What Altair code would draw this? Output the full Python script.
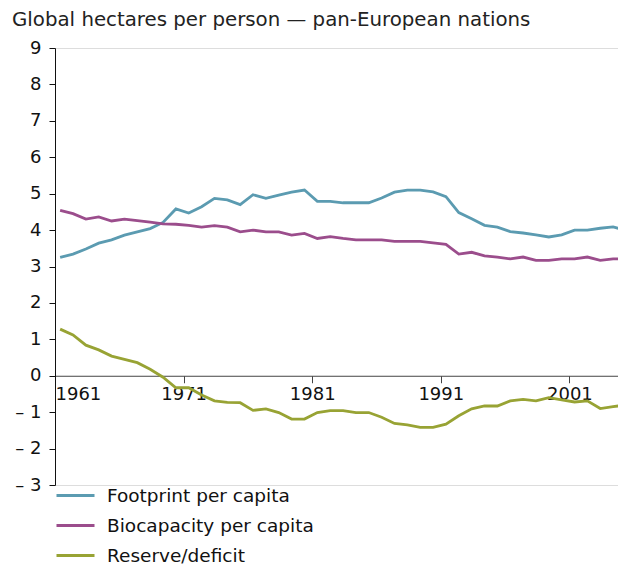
import altair as alt
import pandas as pd

years = list(range(1961, 2006))

footprint = [3.25, 3.34, 3.48, 3.64, 3.73, 3.86, 3.95, 4.04, 4.21, 4.58,
             4.47, 4.64, 4.87, 4.83, 4.70, 4.97, 4.87, 4.96, 5.04, 5.10,
             4.79, 4.79, 4.75, 4.75, 4.75, 4.88, 5.04, 5.10, 5.10, 5.05,
             4.92, 4.48, 4.31, 4.13, 4.08, 3.96, 3.92, 3.87, 3.81, 3.87,
             4.00, 4.00, 4.05, 4.09, 3.99]

biocapacity = [4.54, 4.45, 4.30, 4.36, 4.25, 4.30, 4.26, 4.22, 4.17, 4.16,
               4.13, 4.08, 4.12, 4.08, 3.95, 4.00, 3.95, 3.95, 3.86, 3.91,
               3.77, 3.82, 3.77, 3.73, 3.73, 3.73, 3.69, 3.69, 3.69, 3.65,
               3.61, 3.34, 3.39, 3.29, 3.26, 3.21, 3.26, 3.17, 3.17, 3.21,
               3.21, 3.26, 3.17, 3.21, 3.21]

reserve = [1.28, 1.12, 0.84, 0.71, 0.54, 0.45, 0.36, 0.18, -0.04, -0.33,
           -0.33, -0.53, -0.69, -0.73, -0.74, -0.95, -0.91, -1.01, -1.19, -1.19,
           -1.01, -0.96, -0.96, -1.01, -1.01, -1.14, -1.31, -1.35, -1.42, -1.42,
           -1.33, -1.10, -0.91, -0.83, -0.83, -0.69, -0.65, -0.69, -0.60, -0.66,
           -0.72, -0.69, -0.90, -0.85, -0.80]

series_names = ["Footprint per capita", "Biocapacity per capita", "Reserve/deficit"]
series_colors = ["#5b9bb1", "#9b4d8c", "#98a334"]
x_ticks = [1961, 1971, 1981, 1991, 2001]
y_ticks = list(range(-3, 10))

rows = []
for name, vals in zip(series_names, [footprint, biocapacity, reserve]):
    for yr, v in zip(years, vals):
        rows.append({"year": yr, "series": name, "value": v})
df = pd.DataFrame(rows)

FONT = "DejaVu Sans"
H = 437
W = 563
zero_offset = -(H - H * 9 / 12)

chart = (
    alt.Chart(df)
    .transform_calculate(t="datum.year + 0.4")
    .mark_line(strokeWidth=2.8, clip=True)
    .encode(
        x=alt.X(
            "t:Q",
            scale=alt.Scale(domain=[1961, 2004.78], nice=False, zero=False),
            axis=alt.Axis(
                values=x_ticks, format="d", title=None, offset=zero_offset,
                tickSize=7, labelPadding=3, labelFlush=True, grid=False,
                domainColor="#444444", tickColor="#444444", labelColor="#111111",
                labelFont=FONT, labelFontSize=18,
            ),
        ),
        y=alt.Y(
            "value:Q",
            scale=alt.Scale(domain=[-3, 9], nice=False, zero=False),
            axis=alt.Axis(
                values=y_ticks, title=None, tickSize=6, labelPadding=8, grid=False,
                labelExpr="datum.value < 0 ? '\u2013 ' + abs(datum.value) : datum.label",
                domainColor="#111111", tickColor="#111111", labelColor="#111111",
                labelFont=FONT, labelFontSize=18,
            ),
        ),
        color=alt.Color(
            "series:N",
            sort=series_names,
            scale=alt.Scale(domain=series_names, range=series_colors),
            legend=alt.Legend(
                title=None, orient="none", legendX=0, legendY=427,
                direction="vertical", symbolType="stroke", symbolSize=1444,
                symbolStrokeWidth=3, labelFont=FONT, labelFontSize=18.5,
                labelColor="#111111", labelOffset=11, rowPadding=-10,
                labelLimit=400,
            ),
        ),
    )
    .properties(
        width=W,
        height=H,
        title=alt.TitleParams(
            "Global hectares per person \u2014 pan-European nations",
            anchor="start", frame="group", dx=-43, dy=-5, font=FONT, fontSize=19.8,
            fontWeight="normal", color="#222222",
        ),
        autosize=alt.AutoSizeParams(type="none"),
        padding={"left": 47, "top": 40, "right": 0, "bottom": 79},
    )
    .configure_view(stroke=None)
    .configure(background="white")
)

chart.save("out.html", embed_options={"renderer": "svg", "actions": False})
